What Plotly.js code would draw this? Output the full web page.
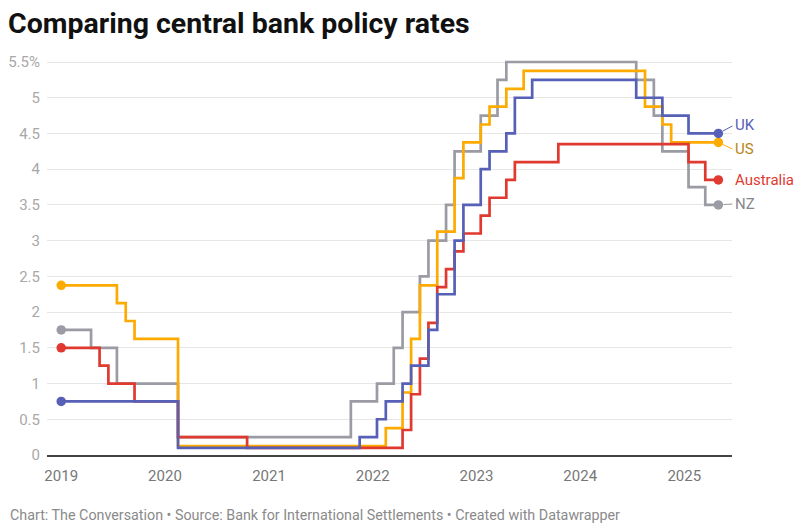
<!DOCTYPE html>
<html><head><meta charset="utf-8">
<script src="https://cdn.plot.ly/plotly-3.0.1.min.js"></script>
<style>html,body{margin:0;padding:0;background:#fff}#chart{width:800px;height:531px}</style>
</head><body><div id="chart"></div>
<script>
// ---- data ----
const seriesNames = ['NZ', 'US', 'Australia', 'UK'];

const nzDates = ['2019-01-01','2019-04-16','2019-07-16','2020-02-16','2021-10-16','2022-01-16','2022-03-16','2022-04-16','2022-06-16','2022-07-16','2022-09-16','2022-10-16','2023-01-16','2023-03-16','2023-04-16','2024-07-16','2024-09-16','2024-10-16','2025-01-16','2025-03-16','2025-05-01'];
const nzRates = [1.75,1.5,1.0,0.25,0.75,1.0,1.5,2.0,2.5,3.0,3.5,4.25,4.75,5.25,5.5,5.25,4.75,4.25,3.75,3.5,3.5];

const usDates = ['2019-01-01','2019-07-16','2019-08-16','2019-09-16','2020-02-16','2022-02-16','2022-04-16','2022-05-16','2022-06-16','2022-08-16','2022-10-16','2022-11-16','2023-01-16','2023-02-16','2023-04-16','2023-06-16','2024-08-16','2024-10-16','2024-11-16','2025-05-01'];
const usRates = [2.375,2.125,1.875,1.625,0.125,0.375,0.875,1.625,2.375,3.125,3.875,4.375,4.625,4.875,5.125,5.375,4.875,4.625,4.375,4.375];

const auDates = ['2019-01-01','2019-05-16','2019-06-16','2019-09-16','2020-02-16','2020-10-16','2022-04-16','2022-05-16','2022-06-16','2022-07-16','2022-08-16','2022-09-16','2022-10-16','2022-11-16','2023-01-16','2023-02-16','2023-04-16','2023-05-16','2023-10-16','2025-01-16','2025-03-16','2025-05-01'];
const auRates = [1.5,1.25,1.0,0.75,0.25,0.1,0.35,0.85,1.35,1.85,2.35,2.6,2.85,3.1,3.35,3.6,3.85,4.1,4.35,4.1,3.85,3.85];

const ukDates = ['2019-01-01','2020-02-16','2021-11-16','2022-01-16','2022-02-16','2022-04-16','2022-05-16','2022-07-16','2022-08-16','2022-10-16','2022-11-16','2023-01-16','2023-02-16','2023-04-16','2023-05-16','2023-07-16','2024-07-16','2024-10-16','2025-01-16','2025-05-01'];
const ukRates = [0.75,0.1,0.25,0.5,0.75,1.0,1.25,1.75,2.25,3.0,3.5,4.0,4.25,4.5,5.0,5.25,5.0,4.75,4.5,4.5];

const tickYears = ['2019','2020','2021','2022','2023','2024','2025'];
const yTickVals = [0,0.5,1,1.5,2,2.5,3,3.5,4,4.5,5,5.5];
const yTickText = ['0','0.5','1','1.5','2','2.5','3','3.5','4','4.5','5','5.5%'];

// ---- styles ----
const FONT = 'Roboto, "Noto Sans", Arial, sans-serif';
const styles = {
  NZ:        {line:'#9b9ba4', label:'#86868f', ax:15, ay:-1, arrow:true},
  US:        {line:'#fdab00', label:'#b98416', ax:15, ay:7, arrow:true},
  Australia: {line:'#e03a30', label:'#df3a30', ax:15, ay:0, arrow:false},
  UK:        {line:'#5660b6', label:'#5660b6', ax:15, ay:-8, arrow:true}
};
const dataMap = {
  NZ: [nzDates, nzRates], US: [usDates, usRates],
  Australia: [auDates, auRates], UK: [ukDates, ukRates]
};

const traces = [];
seriesNames.forEach(name => {
  const [xs, ys] = dataMap[name];
  traces.push({
    type: 'scatter', mode: 'lines', name: name,
    x: xs, y: ys,
    line: {shape: 'hv', color: styles[name].line, width: 2.7},
    hoverinfo: 'skip', showlegend: false
  });
});
seriesNames.forEach(name => {
  const [xs, ys] = dataMap[name];
  const last = xs.length - 1;
  traces.push({
    type: 'scatter', mode: 'markers', name: name + ' ends',
    x: [xs[0], xs[last]], y: [ys[0], ys[last]],
    marker: {size: 9.5, color: styles[name].line, opacity: 1, line: {width: 0}},
    cliponaxis: false, hoverinfo: 'skip', showlegend: false
  });
});

const annotations = seriesNames.map(name => {
  const [xs, ys] = dataMap[name];
  const s = styles[name];
  const a = {
    x: xs[xs.length - 1], y: ys[ys.length - 1], xref: 'x', yref: 'y',
    text: name, xanchor: 'left', yanchor: 'middle',
    font: {family: FONT, size: 15, color: s.label}
  };
  if (s.arrow) {
    Object.assign(a, {showarrow: true, ax: s.ax, ay: s.ay, arrowhead: 0,
      arrowwidth: 1, arrowcolor: s.line, standoff: 5, startstandoff: 1});
  } else {
    Object.assign(a, {showarrow: false, xshift: s.ax});
  }
  return a;
});

annotations.push({
  xref: 'paper', yref: 'paper', x: -0.057, y: -0.152,
  xanchor: 'left', yanchor: 'middle', showarrow: false,
  text: 'Chart: The Conversation • Source: Bank for International Settlements • Created with Datawrapper',
  font: {family: FONT, size: 14.3, color: '#8a8a8a'}
});

const layout = {
  width: 800, height: 531,
  margin: {l: 47, r: 68, t: 58, b: 76},
  paper_bgcolor: '#fff', plot_bgcolor: '#fff',
  title: {
    text: '<b>Comparing central bank policy rates</b>',
    x: 0.01, xref: 'container', xanchor: 'left',
    y: 1 - 23 / 531, yref: 'container', yanchor: 'middle',
    font: {family: FONT, size: 28.5, color: '#111'}
  },
  xaxis: {
    type: 'date', range: ['2018-11-12', '2025-06-18'],
    tickvals: tickYears.map(y => y + '-01-01'), ticktext: tickYears,
    showgrid: false, zeroline: false,
    showline: true, linecolor: '#444', linewidth: 2,
    ticks: '', ticklabelstandoff: 6,
    tickfont: {family: FONT, size: 15, color: '#777'}
  },
  yaxis: {
    range: [0, 5.556], tickvals: yTickVals, ticktext: yTickText,
    showgrid: true, gridcolor: '#e6e6e6', gridwidth: 1,
    zeroline: false, showline: false, ticks: '', ticklabelstandoff: 6,
    tickfont: {family: FONT, size: 15, color: '#a8a8a8'}
  },
  annotations: annotations
};

Plotly.newPlot('chart', traces, layout, {displayModeBar: false, staticPlot: true});
</script>
</body></html>
